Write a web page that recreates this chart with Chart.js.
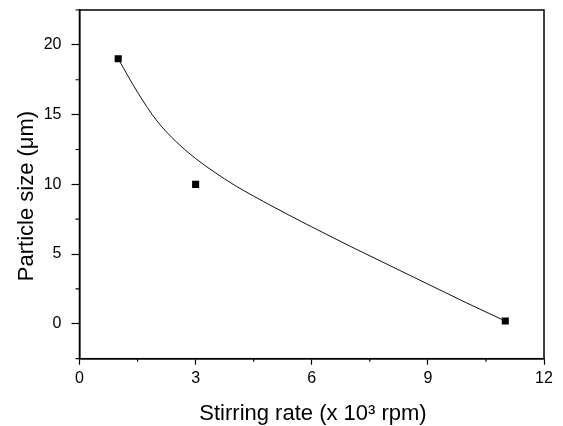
<!DOCTYPE html>
<html>
<head>
<meta charset="utf-8">
<script src="https://cdn.jsdelivr.net/npm/chart.js@4/dist/chart.umd.min.js"></script>
<style>
html,body{margin:0;padding:0;background:#fff;}
#wrap{width:563px;height:426px;position:relative;}
</style>
</head>
<body>
<div id="wrap"><canvas id="c" width="563" height="426"></canvas></div>
<script>
// Measured data points
const stirringRate = [1, 3, 11];
const particleSize = [19, 10, 0.2];
// Fitted curve
const fitX = [1, 1.5, 2, 2.5, 3, 3.5, 4, 5, 6, 7, 8, 9, 10, 11];
const fitY = [19, 16.6, 14.55, 13.05, 11.85, 10.85, 9.95, 8.4, 6.95, 5.55, 4.2, 2.85, 1.5, 0.2];
// Axis tick labels
const xTickLabels = [0, 3, 6, 9, 12];
const yTickLabels = [0, 5, 10, 15, 20];
const xTitle = 'Stirring rate (x 10\u00B3 rpm)';
const yTitle = 'Particle size (\u03BCm)';

const FONT = "'Liberation Sans', Arial, Helvetica, sans-serif";

const framePlugin = {
  id: 'frame',
  afterDraw(chart) {
    const ctx = chart.ctx;
    const a = chart.chartArea;
    const xs = chart.scales.x, ys = chart.scales.y;
    ctx.save();
    ctx.strokeStyle = '#000';
    ctx.lineWidth = 1.5;
    ctx.strokeRect(a.left, a.top, a.right - a.left, a.bottom - a.top);
    // minor ticks
    ctx.lineWidth = 1.2;
    ctx.beginPath();
    xs.ticks.forEach(t => {
      if (!xTickLabels.includes(t.value)) {
        const px = xs.getPixelForValue(t.value);
        ctx.moveTo(px, a.bottom); ctx.lineTo(px, a.bottom + 3);
      }
    });
    ys.ticks.forEach(t => {
      if (!yTickLabels.includes(t.value)) {
        const py = ys.getPixelForValue(t.value);
        ctx.moveTo(a.left, py); ctx.lineTo(a.left - 4, py);
      }
    });
    ctx.stroke();
    // titles
    ctx.fillStyle = '#000';
    ctx.font = '22px ' + FONT;
    ctx.textAlign = 'center';
    ctx.textBaseline = 'alphabetic';
    ctx.fillText(xTitle, 313, 420);
    ctx.translate(33, 196);
    ctx.rotate(-Math.PI / 2);
    ctx.fillText(yTitle, 0, 0);
    ctx.restore();
  }
};

function zeroPad(s) {
  s.paddingTop = 0; s.paddingBottom = 0; s.paddingLeft = 0; s.paddingRight = 0;
}

new Chart(document.getElementById('c'), {
  type: 'scatter',
  data: {
    datasets: [
      {
        data: stirringRate.map((x, i) => ({x, y: particleSize[i]})),
        pointStyle: 'rect',
        pointRadius: 5,
        pointHoverRadius: 5,
        backgroundColor: '#000',
        borderColor: '#000',
        borderWidth: 0,
        showLine: false
      },
      {
        data: fitX.map((x, i) => ({x, y: fitY[i]})),
        showLine: true,
        pointRadius: 0,
        borderColor: '#111',
        borderWidth: 1,
        cubicInterpolationMode: 'monotone',
        fill: false
      }
    ]
  },
  options: {
    responsive: false,
    animation: false,
    devicePixelRatio: 1,
    layout: { padding: { top: 10, right: 19, left: 0, bottom: 0 } },
    plugins: { legend: { display: false }, tooltip: { enabled: false } },
    scales: {
      x: {
        type: 'linear',
        min: 0, max: 12,
        afterFit(s) { s.height = 67.3; zeroPad(s); },
        ticks: {
          stepSize: 1.5,
          autoSkip: false,
          maxRotation: 0,
          color: '#000',
          font: { family: FONT, size: 16 },
          padding: 4,
          callback: v => xTickLabels.includes(v) ? String(v) : ''
        },
        grid: {
          display: true,
          drawOnChartArea: false,
          tickLength: 6,
          tickWidth: 1.2,
          tickColor: c => (c.tick && xTickLabels.includes(c.tick.value)) ? '#000' : 'rgba(0,0,0,0)'
        },
        border: { display: true, color: '#000', width: 1.5 }
      },
      y: {
        type: 'linear',
        min: -2.5, max: 22.5,
        afterFit(s) { s.width = 79.5; zeroPad(s); },
        ticks: {
          stepSize: 2.5,
          autoSkip: false,
          color: '#000',
          font: { family: FONT, size: 16 },
          padding: 10,
          callback: v => yTickLabels.includes(v) ? String(v) : ''
        },
        grid: {
          display: true,
          drawOnChartArea: false,
          tickLength: 8,
          tickWidth: 1.2,
          tickColor: c => (c.tick && yTickLabels.includes(c.tick.value)) ? '#000' : 'rgba(0,0,0,0)'
        },
        border: { display: true, color: '#000', width: 1.5 }
      }
    }
  },
  plugins: [framePlugin]
});
</script>
</body>
</html>
